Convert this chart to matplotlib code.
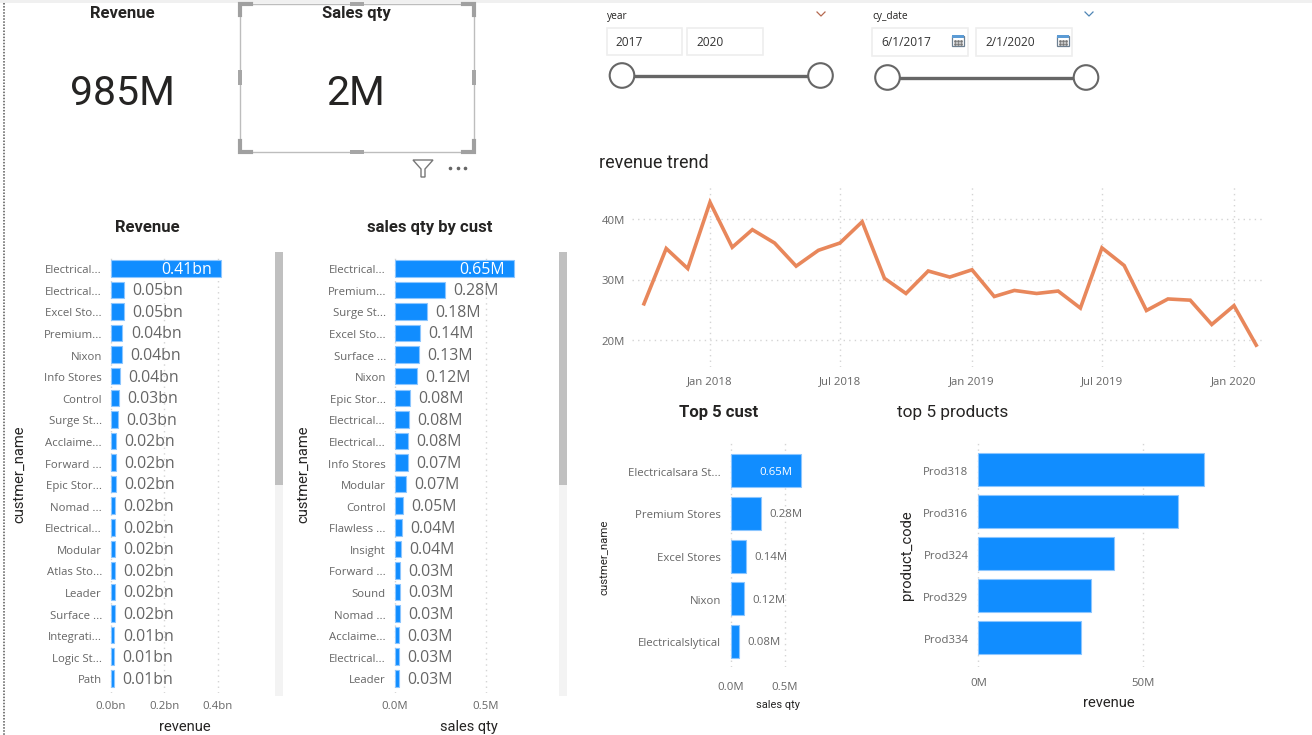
import numpy as np
import matplotlib
matplotlib.use('Agg')
import matplotlib.pyplot as plt
import matplotlib.dates as mdates
import pandas as pd
from matplotlib.patches import Rectangle, Circle, Polygon
from matplotlib.transforms import ScaledTranslation

W, H = 1312, 735

# datos
rev_names = ['Electrical...', 'Electrical...', 'Excel Sto...', 'Premium...', 'Nixon', 'Info Stores', 'Control',
             'Surge St...', 'Acclaime...', 'Forward ...', 'Epic Stor...', 'Nomad ...', 'Electrical...', 'Modular',
             'Atlas Sto...', 'Leader', 'Surface ...', 'Integrati...', 'Logic St...', 'Path']
rev_values = [0.412, 0.048, 0.048, 0.043, 0.041, 0.034, 0.030, 0.026, 0.020, 0.020,
              0.018, 0.016, 0.016, 0.015, 0.015, 0.014, 0.014, 0.013, 0.011, 0.011]
rev_labels = ['0.41bn', '0.05bn', '0.05bn', '0.04bn', '0.04bn', '0.04bn', '0.03bn', '0.03bn', '0.02bn', '0.02bn',
              '0.02bn', '0.02bn', '0.02bn', '0.02bn', '0.02bn', '0.02bn', '0.02bn', '0.01bn', '0.01bn', '0.01bn']

qty_names = ['Electrical...', 'Premium...', 'Surge St...', 'Excel Sto...', 'Surface ...', 'Nixon', 'Epic Stor...',
             'Electrical...', 'Electrical...', 'Info Stores', 'Modular', 'Control', 'Flawless ...', 'Insight',
             'Forward ...', 'Sound', 'Nomad ...', 'Acclaime...', 'Electrical...', 'Leader']
qty_values = [0.655, 0.277, 0.174, 0.136, 0.130, 0.119, 0.081, 0.077, 0.073, 0.070,
              0.062, 0.046, 0.038, 0.035, 0.029, 0.027, 0.027, 0.024, 0.024, 0.024]
qty_labels = ['0.65M', '0.28M', '0.18M', '0.14M', '0.13M', '0.12M', '0.08M', '0.08M', '0.08M', '0.07M',
              '0.07M', '0.05M', '0.04M', '0.04M', '0.03M', '0.03M', '0.03M', '0.03M', '0.03M', '0.03M']

trend_dates = pd.date_range('2017-10-01', '2020-02-01', freq='MS')
trend_values = [26.0, 35.1, 31.8, 42.7, 35.3, 38.2, 36.0, 32.2, 34.8, 36.0, 39.5, 30.2, 27.7, 31.4, 30.4,
                31.6, 27.2, 28.2, 27.7, 28.1, 25.3, 35.2, 32.3, 24.9, 26.8, 26.6, 22.6, 25.7, 19.2]

top_names = ['Electricalsara St...', 'Premium Stores', 'Excel Stores', 'Nixon', 'Electricalslytical']
top_values = [0.652, 0.277, 0.14, 0.12, 0.078]
top_labels = ['0.65M', '0.28M', '0.14M', '0.12M', '0.08M']

prod_names = ['Prod318', 'Prod316', 'Prod324', 'Prod329', 'Prod334']
prod_values = [68.6, 60.6, 41.3, 34.2, 31.3]

BLUE = '#118DFF'
EDGE = '#8cc6ff'
GREY = '#666666'
DARK = '#252423'
TITLE_FONT = 'Roboto'
BODY_FONT = 'Open Sans'

fig = plt.figure(figsize=(W / 100, H / 100), dpi=100, facecolor='white')

# capa en pixeles para la parte de interfaz y los textos
ui = fig.add_axes([0, 0, 1, 1])
ui.set_xlim(0, W)
ui.set_ylim(H, 0)
ui.axis('off')

down_1px = ScaledTranslation(0, -1 / 100, fig.dpi_scale_trans)


def px_axes(left, right, top, bottom):
    ax = fig.add_axes([left / W, 1 - bottom / H, (right - left) / W, (bottom - top) / H])
    ax.patch.set_alpha(0)
    for s in ax.spines.values():
        s.set_visible(False)
    return ax


def label(x, y, s, size, color=DARK, weight='normal', ha='center', font=TITLE_FONT, rotation=0):
    ui.text(x, y + 1, s, fontsize=size, color=color, fontweight=weight, ha=ha, va='center',
            family=font, rotation=rotation)


def hbars(names, values, texts, right, top, bottom, x0, px_per_unit, y0, step, bar_h,
          ticks, ticklabels, name_size, value_size, tick_y, pad):
    left = x0 - 1
    ax = px_axes(left, right, top, bottom)
    ax.set_xlim((left - x0) / px_per_unit, (right - x0) / px_per_unit)
    ax.set_ylim((bottom - y0) / step, (top - y0) / step)
    pos = np.arange(len(values))
    ax.barh(pos, values, height=bar_h / step, color=BLUE, edgecolor=EDGE, linewidth=0.8, zorder=3)
    ax.set_yticks(pos, names)
    ax.set_xticks(ticks, [])
    ax.tick_params(axis='both', length=0)
    ax.tick_params(axis='y', pad=pad, labelsize=name_size, labelcolor=GREY, labelfontfamily=BODY_FONT)
    for t in ax.get_yticklabels():
        t.set_transform(t.get_transform() + down_1px)
    ax.grid(axis='x', color='#d4d4d4', linestyle=(0, (1, 3)), linewidth=1, zorder=0)
    ax.set_axisbelow(True)
    for t, lab in zip(ticks, ticklabels):
        label(x0 + t * px_per_unit, tick_y, lab, name_size, color=GREY, font=BODY_FONT)
    if texts is not None:
        for i, (v, txt) in enumerate(zip(values, texts)):
            # la barra mas larga lleva la etiqueta dentro
            if i == 0:
                ax.annotate(txt, (v, i), xytext=(-6.5, -1), textcoords='offset points', ha='right', va='center',
                            color='white', fontsize=value_size, family=BODY_FONT, zorder=5)
            else:
                ax.annotate(txt, (v, i), xytext=(6, -1), textcoords='offset points', ha='left', va='center',
                            color=GREY, fontsize=value_size, family=BODY_FONT, zorder=5)
    return ax


# franja superior y linea punteada
ui.add_patch(Rectangle((0, 0), W, 3, color='#f0f0f0', lw=0))
ui.plot([4, 4], [3, H], color='#555555', lw=1.1, linestyle=(0, (1, 1)))

# tarjetas
label(122, 12.5, 'Revenue', 12, weight='bold')
label(356, 12.5, 'Sales qty', 12, weight='bold')
label(122, 92.5, '985M', 29.5)
label(356, 92.5, '2M', 29.5)

# marco de seleccion
fx0, fx1, fy0, fy1 = 239.5, 473.5, 4, 151.5
ui.add_patch(Rectangle((fx0, fy0), fx1 - fx0, fy1 - fy0, fill=False, ec='#bdbdbd', lw=1))
for cx, sx in ((fx0, 1), (fx1, -1)):
    for cy, sy in ((fy0, 1), (fy1, -1)):
        ui.plot([cx + sx * 11, cx, cx], [cy, cy, cy + sy * 11], color='#a0a0a0', lw=3, solid_joinstyle='miter')
for cx in ((fx0 + fx1) / 2,):
    ui.add_patch(Rectangle((cx - 7, fy0 - 2), 14, 4, color='#a6a6a6', lw=0))
    ui.add_patch(Rectangle((cx - 7, fy1 - 2), 14, 4, color='#a6a6a6', lw=0))
for cx in (fx0, fx1):
    ui.add_patch(Rectangle((cx - 2, 70), 4, 15, color='#a6a6a6', lw=0))

# icono de filtro y puntos
ui.add_patch(Polygon([(413, 160), (433, 160), (425, 169), (425, 177), (421, 177), (421, 169)],
                     closed=True, fill=False, ec='#777777', lw=1))
ui.plot([450, 457.5, 465], [168, 168, 168], ls='', marker='o', ms=1.6, color='#666666')

# segmentadores
label(607, 15.5, 'year', 7.3, ha='left', font=BODY_FONT)
label(872, 15.5, 'cy_date', 7.3, ha='left', font=BODY_FONT)
ui.plot([817, 821, 825], [12, 16, 12], color='#b5694f', lw=0.9)
ui.plot([1085, 1089, 1093], [12, 16, 12], color='#4f86b5', lw=0.9)
for x, w, top, h, txt, tx in ((607, 75, 28, 26.5, '2017', 614), (687, 75.5, 28, 26.5, '2020', 695),
                              (872, 96, 28, 27.5, '6/1/2017', 880), (976, 96, 28, 27.5, '2/1/2020', 984)):
    ui.add_patch(Rectangle((x, top), w, h, fill=False, ec='#eeeeee', lw=1.2))
    label(tx + 1, top + 13.5, txt, 8.6, color='#333333', ha='left', font=BODY_FONT)
for cx in (958, 1063):
    ui.add_patch(Rectangle((cx - 6, 36), 12, 10, fill=False, ec='#6c7f90', lw=0.9))
    ui.add_patch(Rectangle((cx - 6, 35), 12, 3, color='#5b9bd5', lw=0))
    ui.plot(np.repeat([cx - 3, cx, cx + 3], 2), [41, 44] * 3, ls='', marker='s', ms=0.9, color='#777777')
for cx0, cx1, cy in ((622, 820.5, 75.5), (887.5, 1086, 77.5)):
    ui.plot([cx0, cx1], [cy, cy], color=GREY, lw=2.4, solid_capstyle='butt')
    for cx in (cx0, cx1):
        ui.add_patch(Circle((cx, cy), 12.3, fc='white', ec=GREY, lw=1.5, zorder=4))

# barras de desplazamiento
for x in (275, 559):
    ui.add_patch(Rectangle((x, 252), 8, 444, color='#f3f3f3', lw=0))
    ui.add_patch(Rectangle((x, 252), 8, 233, color='#c0c0c0', lw=0))

# revenue
label(147, 226.5, 'Revenue', 12, weight='bold')
hbars(rev_names, rev_values, rev_labels, 245, 256, 693, 111, 267, 268.3, 21.58, 16.5,
      [0, 0.2, 0.4], ['0.0bn', '0.2bn', '0.4bn'], 8.2, 11.4, 705.5, 5.8)
label(19.5, 473, 'custmer_name', 10.6, rotation=90)
label(185, 726, 'revenue', 10.6)

# sales qty by cust
label(430, 226.5, 'sales qty by cust', 12, weight='bold')
hbars(qty_names, qty_values, qty_labels, 530, 256, 693, 395, 182, 268.3, 21.58, 16.5,
      [0, 0.5], ['0.0M', '0.5M'], 8.2, 11.4, 705.5, 5.8)
label(303.5, 473, 'custmer_name', 10.6, rotation=90)
label(469, 726, 'sales qty', 10.5)

# revenue trend
label(599, 161.5, 'revenue trend', 13, ha='left')
ax = px_axes(632, 1265, 187, 367)
t0 = pd.Timestamp('2018-01-01')
t1 = pd.Timestamp('2020-01-01')
px_day = (1234 - 710) / (t1 - t0).days
ax.set_xlim(t0 + pd.Timedelta(days=(632 - 710) / px_day), t0 + pd.Timedelta(days=(1265 - 710) / px_day))
ax.set_ylim(20 + (340.3 - 367) / 6.08, 20 + (340.3 - 187) / 6.08)
ax.plot(trend_dates, trend_values, color='#E8875B', lw=2.6, zorder=3, solid_joinstyle='miter')
ax.set_yticks([20, 30, 40], ['20M', '30M', '40M'])
ax.set_xticks(pd.to_datetime(['2018-01-01', '2018-07-01', '2019-01-01', '2019-07-01', '2020-01-01']))
ax.xaxis.set_major_formatter(mdates.DateFormatter('%b %Y'))
ax.tick_params(axis='both', length=0, labelsize=8.2, labelcolor=GREY, labelfontfamily=BODY_FONT)
ax.tick_params(axis='x', pad=6.5)
ax.tick_params(axis='y', pad=5)
for t in ax.get_yticklabels():
    t.set_transform(t.get_transform() + down_1px)
ax.grid(True, color='#d4d4d4', linestyle=(0, (1, 3)), linewidth=1, zorder=0)

# top 5 cust
label(718.5, 411.5, 'Top 5 cust', 12, weight='bold')
hbars(top_names, top_values, top_labels, 830, 440, 667, 731, 107.4, 470.7, 42.67, 33,
      [0, 0.5], ['0.0M', '0.5M'], 8.2, 8.2, 686, 6.5)
label(605, 556.5, 'custmer_name', 8.2, rotation=90)
label(777.5, 704, 'sales qty', 7.9)

# top 5 products
label(897, 411.5, 'top 5 products', 12.4, ha='left')
hbars(prod_names, prod_values, None, 1230, 440, 667, 978.5, 3.29, 469.7, 42, 32.7,
      [0, 50], ['0M', '50M'], 8.2, 8.2, 682, 6.5)
label(907, 554, 'product_code', 10.6, rotation=90)
label(1108.5, 702, 'revenue', 10.6)

fig.savefig('out.png', dpi=100)
